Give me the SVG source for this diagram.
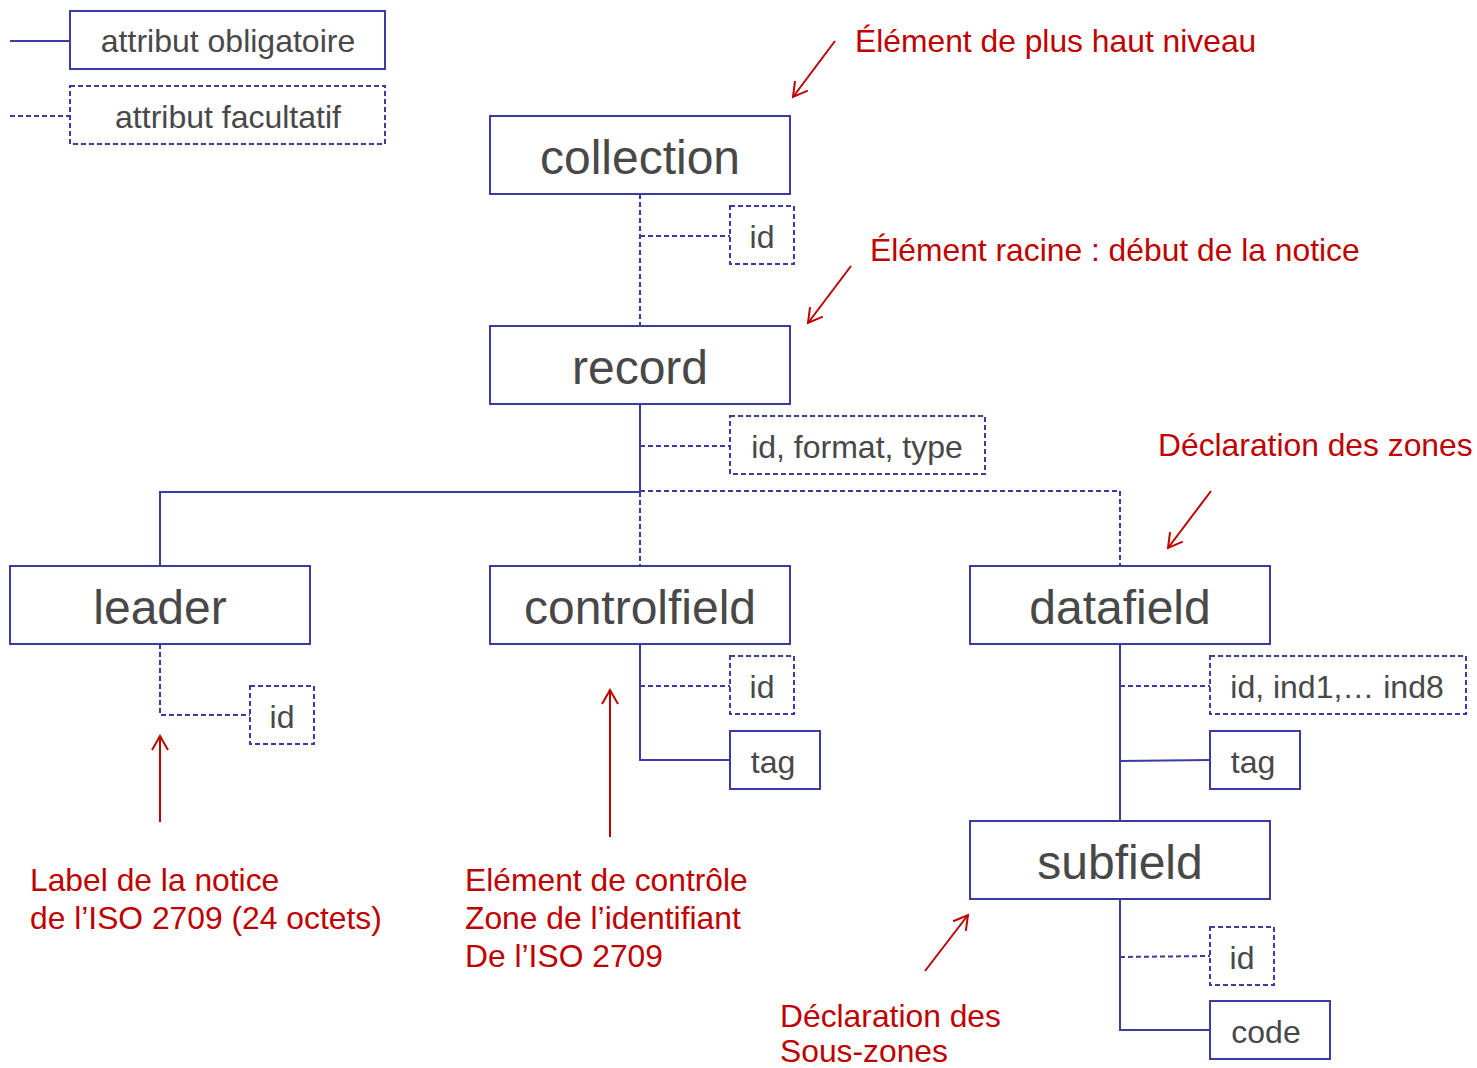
<svg xmlns="http://www.w3.org/2000/svg" width="1477" height="1068" viewBox="0 0 1477 1068">
<style>
.box{fill:#fff;stroke:#3b3ba3;stroke-width:2}
.dbox{fill:#fff;stroke:#3b3ba3;stroke-width:2;stroke-dasharray:5,3}
.ln{fill:none;stroke:#3b3ba3;stroke-width:2}
.dl{fill:none;stroke:#3b3ba3;stroke-width:2;stroke-dasharray:5,3}
.t{font-family:"Liberation Sans",Arial,sans-serif;fill:#484848;text-anchor:middle}
.big{font-size:48px}
.sm{font-size:32px}
.r{font-family:"Liberation Sans",Arial,sans-serif;fill:#c00000;font-size:31.8px}
.ar{fill:none;stroke:#c00000;stroke-width:2;marker-end:url(#ah)}
</style>
<defs>
<marker id="ah" viewBox="0 0 20 20" refX="18" refY="10" markerWidth="20" markerHeight="20" markerUnits="userSpaceOnUse" orient="auto">
<path d="M4,2 L18,10 L4,18" fill="none" stroke="#c00000" stroke-width="2"/>
</marker>
</defs>
<rect width="1477" height="1068" fill="#fff"/>
<g id="connectors">
<line class="ln" x1="10" y1="41" x2="70" y2="41"/>
<line class="dl" x1="10" y1="116" x2="70" y2="116"/>
<line class="dl" x1="640" y1="194" x2="640" y2="326"/>
<line class="dl" x1="640" y1="236" x2="730" y2="236"/>
<line class="ln" x1="640" y1="404" x2="640" y2="492"/>
<line class="dl" x1="640" y1="446" x2="730" y2="446"/>
<polyline class="ln" points="640,492 160,492 160,566"/>
<polyline class="dl" points="640,491 1120,491 1120,566"/>
<line class="dl" x1="640" y1="492" x2="640" y2="566"/>
<polyline class="dl" points="160,644 160,715 250,715"/>
<polyline class="ln" points="640,644 640,760 730,760"/>
<line class="dl" x1="640" y1="686" x2="730" y2="686"/>
<line class="ln" x1="1120" y1="644" x2="1120" y2="821"/>
<line class="dl" x1="1120" y1="686" x2="1210" y2="686"/>
<line class="ln" x1="1120" y1="761" x2="1210" y2="760"/>
<polyline class="ln" points="1120,899 1120,1030 1210,1030"/>
<line class="dl" x1="1120" y1="957" x2="1210" y2="956"/>
</g>
<g id="legend-obligatoire"><rect class="box" x="70" y="11" width="315" height="58"/><text class="t sm" x="228" y="52">attribut obligatoire</text></g>
<g id="legend-facultatif"><rect class="dbox" x="70" y="86" width="315" height="58"/><text class="t sm" x="228" y="128">attribut facultatif</text></g>
<g id="collection"><rect class="box" x="490" y="116" width="300" height="78"/><text class="t big" x="640" y="174">collection</text></g>
<g id="collection-id"><rect class="dbox" x="730" y="206" width="64" height="58"/><text class="t sm" x="762" y="248">id</text></g>
<g id="record"><rect class="box" x="490" y="326" width="300" height="78"/><text class="t big" x="640" y="384">record</text></g>
<g id="record-attrs"><rect class="dbox" x="730" y="416" width="255" height="58"/><text class="t sm" x="857" y="458">id, format, type</text></g>
<g id="leader"><rect class="box" x="10" y="566" width="300" height="78"/><text class="t big" x="160" y="624">leader</text></g>
<g id="leader-id"><rect class="dbox" x="250" y="686" width="64" height="58"/><text class="t sm" x="282" y="728">id</text></g>
<g id="controlfield"><rect class="box" x="490" y="566" width="300" height="78"/><text class="t big" x="640" y="624">controlfield</text></g>
<g id="controlfield-id"><rect class="dbox" x="730" y="656" width="64" height="58"/><text class="t sm" x="762" y="698">id</text></g>
<g id="controlfield-tag"><rect class="box" x="730" y="731" width="90" height="58"/><text class="t sm" x="773" y="773">tag</text></g>
<g id="datafield"><rect class="box" x="970" y="566" width="300" height="78"/><text class="t big" x="1120" y="624">datafield</text></g>
<g id="datafield-attrs"><rect class="dbox" x="1210" y="656" width="256" height="58"/><text class="t sm" x="1337" y="698">id, ind1,… ind8</text></g>
<g id="datafield-tag"><rect class="box" x="1210" y="731" width="90" height="58"/><text class="t sm" x="1253" y="773">tag</text></g>
<g id="subfield"><rect class="box" x="970" y="821" width="300" height="78"/><text class="t big" x="1120" y="879">subfield</text></g>
<g id="subfield-id"><rect class="dbox" x="1210" y="927" width="64" height="58"/><text class="t sm" x="1242" y="969">id</text></g>
<g id="subfield-code"><rect class="box" x="1210" y="1001" width="120" height="58"/><text class="t sm" x="1266" y="1043">code</text></g>
<g id="annotations">
<line class="ar" x1="835" y1="41" x2="793" y2="97"/>
<line class="ar" x1="851" y1="266" x2="808" y2="323"/>
<line class="ar" x1="1211" y1="491" x2="1168" y2="548"/>
<line class="ar" x1="160" y1="822" x2="160" y2="736"/>
<line class="ar" x1="610" y1="837" x2="610" y2="690"/>
<line class="ar" x1="925" y1="971" x2="968" y2="915"/>
<text class="r" x="855" y="52">Élément de plus haut niveau</text>
<text class="r" x="870" y="261">Élément racine : début de la notice</text>
<text class="r" x="1158" y="456">Déclaration des zones</text>
<text class="r" x="30" y="891">Label de la notice</text>
<text class="r" x="30" y="929">de l’ISO 2709 (24 octets)</text>
<text class="r" x="465" y="891">Elément de contrôle</text>
<text class="r" x="465" y="929">Zone de l’identifiant</text>
<text class="r" x="465" y="967">De l’ISO 2709</text>
<text class="r" x="780" y="1027">Déclaration des</text>
<text class="r" x="780" y="1062">Sous-zones</text>
</g>
</svg>
